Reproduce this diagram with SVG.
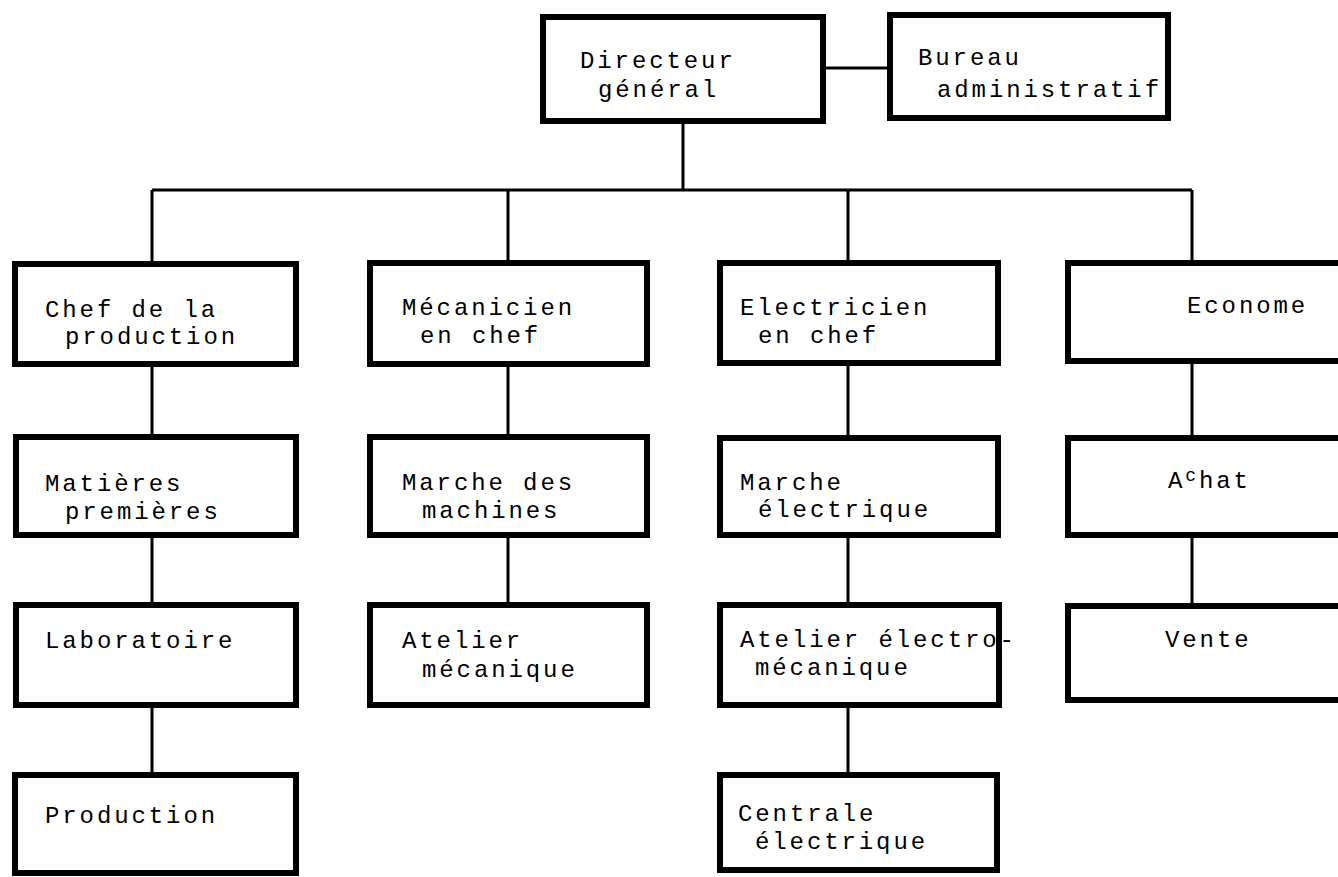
<svg xmlns="http://www.w3.org/2000/svg" width="1338" height="877" viewBox="0 0 1338 877">
<style>
.box{fill:#fff;stroke:#000;stroke-width:6}
.ln{fill:none;stroke:#000;stroke-width:3}
text{font-family:"Liberation Mono","Courier New",monospace;font-size:24px;letter-spacing:2.9px;fill:#000}
.sup{font-size:18px}
</style>
<rect width="1338" height="877" fill="#fff"/>
<g id="connectors">
<path class="ln" d="M823 68H887"/>
<path class="ln" d="M683 121V190M152 190H1192M152 190V263M508 190V263M848 190V263M1192 190V263"/>
<path class="ln" d="M152 364V437M152 535V605M152 705V775"/>
<path class="ln" d="M508 364V437M508 535V605"/>
<path class="ln" d="M848 364V438M848 535V605M848 705V775"/>
<path class="ln" d="M1192 361V438M1192 535V606"/>
</g>
<g id="directeur"><rect class="box" x="543" y="17" width="280" height="104"/><text x="580" y="68">Directeur</text><text x="598" y="97">général</text></g>
<g id="bureau"><rect class="box" x="890" y="15" width="278" height="103"/><text x="918" y="65">Bureau</text><text x="937" y="97">administratif</text></g>
<g id="chef-production"><rect class="box" x="15" y="264" width="281" height="100"/><text x="45" y="317">Chef de la</text><text x="65" y="344">production</text></g>
<g id="mecanicien"><rect class="box" x="370" y="263" width="277" height="101"/><text x="402" y="315">Mécanicien</text><text x="420" y="343">en chef</text></g>
<g id="electricien"><rect class="box" x="720" y="263" width="278" height="100"/><text x="740" y="315">Electricien</text><text x="758" y="343">en chef</text></g>
<g id="econome"><rect class="box" x="1068" y="263" width="290" height="98"/><text x="1187" y="313">Econome</text></g>
<g id="matieres"><rect class="box" x="16" y="437" width="280" height="98"/><text x="45" y="491">Matières</text><text x="65" y="519">premières</text></g>
<g id="marche-machines"><rect class="box" x="370" y="437" width="277" height="98"/><text x="402" y="490">Marche des</text><text x="422" y="518">machines</text></g>
<g id="marche-electrique"><rect class="box" x="720" y="438" width="278" height="97"/><text x="740" y="490">Marche</text><text x="758" y="517">électrique</text></g>
<g id="achat"><rect class="box" x="1068" y="438" width="290" height="97"/><text x="1168" y="488">A<tspan class="sup" dy="-7">c</tspan><tspan dy="7">hat</tspan></text></g>
<g id="laboratoire"><rect class="box" x="16" y="605" width="280" height="100"/><text x="45" y="648">Laboratoire</text></g>
<g id="atelier-mecanique"><rect class="box" x="370" y="605" width="277" height="100"/><text x="402" y="648">Atelier</text><text x="422" y="677">mécanique</text></g>
<g id="atelier-electromecanique"><rect class="box" x="720" y="605" width="279" height="100"/><text x="740" y="647">Atelier électro-</text><text x="755" y="675">mécanique</text></g>
<g id="vente"><rect class="box" x="1068" y="606" width="290" height="94"/><text x="1165" y="647">Vente</text></g>
<g id="production"><rect class="box" x="15" y="775" width="281" height="98"/><text x="45" y="823">Production</text></g>
<g id="centrale"><rect class="box" x="720" y="775" width="277" height="95"/><text x="738" y="821">Centrale</text><text x="755" y="849">électrique</text></g>
</svg>
